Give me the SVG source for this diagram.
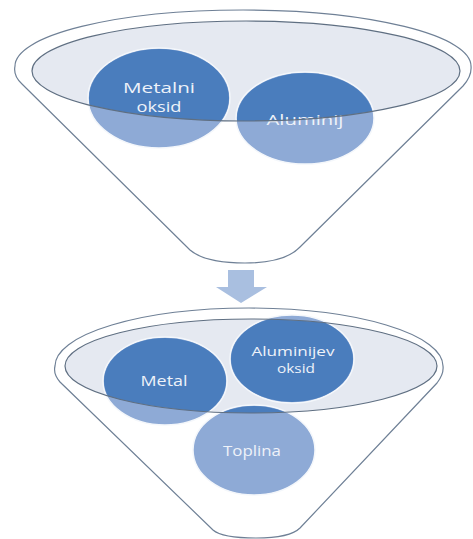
<svg xmlns="http://www.w3.org/2000/svg" width="473" height="539" viewBox="0 0 473 539">
<style>
.rim{fill:none;stroke:#5f6f82;stroke-width:1.2}
.body{fill:#ffffff;stroke:#6f8096;stroke-width:1.2}
.bowl{fill:#e5e9f1}
.lt{fill:#8eaad6;stroke:#f4f7fb;stroke-width:1.5}
.dk{fill:#4a7dbd}
.lbl{font-family:"Open Sans","Liberation Sans",sans-serif;fill:#eef2f9;text-anchor:middle}
</style>
<defs>
<clipPath id="in1"><ellipse cx="246" cy="71" rx="214" ry="50"/></clipPath>
<clipPath id="in2"><ellipse cx="251" cy="366" rx="186" ry="47"/></clipPath>
</defs>

<g id="funnel-top">
<path class="body" d="M15,66 A228,56 0 0 1 471,66 Q472,76 463,86 L300,247 Q285,263 245,263 Q205,263 190,250 L22,84 Q13,76 15,66 Z"/>
<ellipse class="bowl" cx="246" cy="71" rx="214" ry="50"/>
</g>

<g id="node-metalni-oksid">
<ellipse class="lt" cx="159" cy="98" rx="71" ry="50"/>
<ellipse class="dk" cx="159" cy="98" rx="70" ry="49" clip-path="url(#in1)"/>
<text class="lbl" x="159" y="93" font-size="15" textLength="72" lengthAdjust="spacingAndGlyphs">Metalni</text>
<text class="lbl" x="159" y="112" font-size="15" textLength="45" lengthAdjust="spacingAndGlyphs">oksid</text>
</g>

<g id="node-aluminij">
<ellipse class="lt" cx="305" cy="118" rx="69" ry="46"/>
<ellipse class="dk" cx="305" cy="118" rx="68" ry="45" clip-path="url(#in1)"/>
<text class="lbl" x="305" y="125" font-size="15" textLength="77" lengthAdjust="spacingAndGlyphs">Aluminij</text>
</g>

<g id="funnel-top-rim">
<ellipse class="rim" cx="246" cy="71" rx="214" ry="50"/>
</g>

<g id="connectors">
<polygon points="228,270 254,270 254,287 267,287 241,303 216,287 228,287" fill="#a9bfe0"/>
</g>

<g id="funnel-bottom">
<path class="body" d="M55,366 A194,58 0 0 1 443,366 Q444,374 437,383 L300,528 Q290,538 256,538 Q222,538 213,530 L60,382 Q53,374 55,366 Z"/>
<ellipse class="bowl" cx="251" cy="366" rx="186" ry="47"/>
</g>

<g id="node-metal">
<ellipse class="lt" cx="165" cy="381" rx="62" ry="44"/>
<ellipse class="dk" cx="165" cy="381" rx="61" ry="43" clip-path="url(#in2)"/>
<text class="lbl" x="164" y="386" font-size="14" textLength="47" lengthAdjust="spacingAndGlyphs">Metal</text>
</g>

<g id="node-aluminijev-oksid">
<ellipse class="lt" cx="292" cy="359" rx="62" ry="44"/>
<ellipse class="dk" cx="292" cy="359" rx="61" ry="43" clip-path="url(#in2)"/>
<text class="lbl" x="293" y="356" font-size="13" textLength="83" lengthAdjust="spacingAndGlyphs">Aluminijev</text>
<text class="lbl" x="296" y="373" font-size="13" textLength="38" lengthAdjust="spacingAndGlyphs">oksid</text>
</g>

<g id="node-toplina">
<ellipse class="lt" cx="254" cy="450" rx="61" ry="45"/>
<ellipse class="dk" cx="254" cy="450" rx="60" ry="44" clip-path="url(#in2)"/>
<text class="lbl" x="252" y="456" font-size="14" textLength="58" lengthAdjust="spacingAndGlyphs">Toplina</text>
</g>

<g id="funnel-bottom-rim">
<ellipse class="rim" cx="251" cy="366" rx="186" ry="47"/>
</g>
</svg>
